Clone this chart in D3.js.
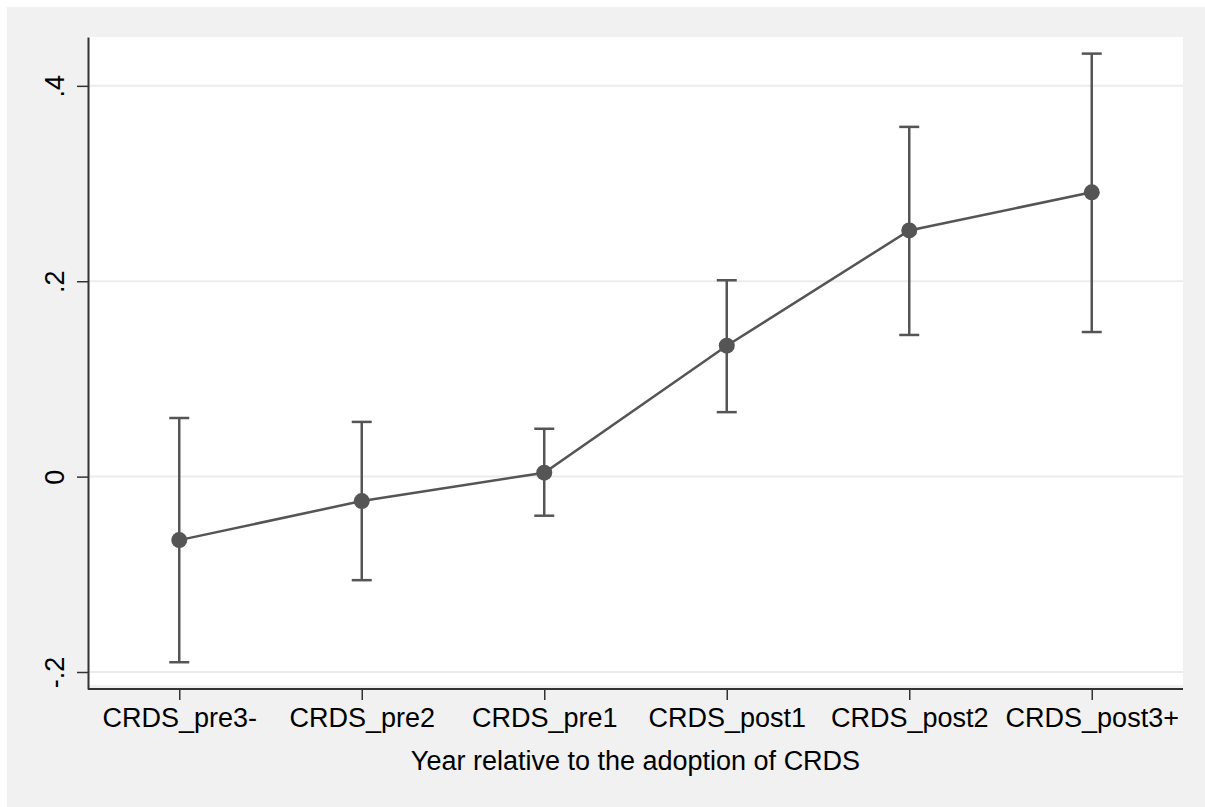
<!DOCTYPE html>
<html>
<head>
<meta charset="utf-8">
<script src="https://cdn.jsdelivr.net/npm/d3@7"></script>
<style>
  body { margin: 0; background: #fff; }
  svg { display: block; font-family: "Liberation Sans", Arial, sans-serif; }
</style>
</head>
<body>
<div id="chart"></div>
<script>
// data
const categories = ["CRDS_pre3-", "CRDS_pre2", "CRDS_pre1", "CRDS_post1", "CRDS_post2", "CRDS_post3+"];
const estimates = [-0.065, -0.025, 0.004, 0.134, 0.252, 0.291];
const ciLower = [-0.190, -0.106, -0.040, 0.066, 0.145, 0.148];
const ciUpper = [0.060, 0.056, 0.049, 0.201, 0.358, 0.433];
const yTicks = [-0.2, 0, 0.2, 0.4];
const yTickLabels = ["-.2", "0", ".2", ".4"];
const xTitle = "Year relative to the adoption of CRDS";

const width = 1205, height = 807;
const margin = {top: 37, right: 22, bottom: 118, left: 88};
const ink = "#555";

const data = categories.map((c, i) => ({c, est: estimates[i], lo: ciLower[i], hi: ciUpper[i]}));

const x = d3.scalePoint()
    .domain(categories)
    .range([margin.left, width - margin.right])
    .padding(0.5);

const y = d3.scaleLinear()
    .domain([-0.2174, 0.45])
    .range([height - margin.bottom, margin.top]);

const svg = d3.select("#chart").append("svg")
    .attr("width", width)
    .attr("height", height);

// outer gray region
svg.append("rect")
    .attr("x", 7).attr("y", 7)
    .attr("width", width - 7).attr("height", height - 7)
    .attr("fill", "#f1f1f1");

// plot region
svg.append("rect")
    .attr("x", margin.left).attr("y", margin.top)
    .attr("width", width - margin.right - margin.left)
    .attr("height", height - margin.bottom - margin.top - 4)
    .attr("fill", "#fff");

// gridlines
svg.append("g")
  .selectAll("line")
  .data(yTicks)
  .join("line")
    .attr("x1", margin.left)
    .attr("x2", width - margin.right)
    .attr("y1", d => y(d))
    .attr("y2", d => y(d))
    .attr("stroke", "#ececec")
    .attr("stroke-width", 2);

const xAxis = g => g
    .attr("transform", `translate(0,${height - margin.bottom})`)
    .call(d3.axisBottom(x).tickSize(11).tickSizeOuter(0).tickPadding(8))
    .call(g => g.select(".domain").attr("stroke", "#333").attr("stroke-width", 2)
        .attr("d", `M${margin.left},0H${width - margin.right}`))
    .call(g => g.selectAll(".tick line").attr("stroke", "#333").attr("stroke-width", 1.5))
    .call(g => g.selectAll(".tick text")
        .attr("fill", "#000")
        .attr("font-size", 27)
        .attr("font-family", "Liberation Sans, Arial, sans-serif"));

const yAxis = g => g
    .attr("transform", `translate(${margin.left},0)`)
    .call(d3.axisLeft(y).tickValues(yTicks).tickFormat((d, i) => yTickLabels[i])
        .tickSize(11).tickSizeOuter(0))
    .call(g => g.select(".domain").attr("stroke", "#333").attr("stroke-width", 2))
    .call(g => g.selectAll(".tick line").attr("stroke", "#333").attr("stroke-width", 1.5))
    .call(g => g.selectAll(".tick text")
        .attr("fill", "#000")
        .attr("font-size", 27)
        .attr("font-family", "Liberation Sans, Arial, sans-serif")
        .attr("text-anchor", "middle")
        .attr("dy", null)
        .attr("x", null)
        .attr("transform", "translate(-31,0) rotate(-90)")
        .attr("dominant-baseline", "middle"));

svg.append("g").call(xAxis);
svg.append("g").call(yAxis);

// axis title
svg.append("text")
    .attr("x", (margin.left + width - margin.right) / 2)
    .attr("y", 770)
    .attr("text-anchor", "middle")
    .attr("font-size", 27)
    .attr("fill", "#000")
    .text(xTitle);

// confidence intervals
const ci = svg.append("g")
    .attr("stroke", ink)
    .attr("stroke-width", 2.5)
  .selectAll("g")
  .data(data)
  .join("g");

ci.append("line")
    .attr("x1", d => x(d.c)).attr("x2", d => x(d.c))
    .attr("y1", d => y(d.lo)).attr("y2", d => y(d.hi));

ci.append("line")
    .attr("x1", d => x(d.c) - 10).attr("x2", d => x(d.c) + 10)
    .attr("y1", d => y(d.hi)).attr("y2", d => y(d.hi));

ci.append("line")
    .attr("x1", d => x(d.c) - 10).attr("x2", d => x(d.c) + 10)
    .attr("y1", d => y(d.lo)).attr("y2", d => y(d.lo));

// connecting line
svg.append("path")
    .datum(data)
    .attr("fill", "none")
    .attr("stroke", ink)
    .attr("stroke-width", 2.5)
    .attr("d", d3.line().x(d => x(d.c)).y(d => y(d.est)));

// point estimates
svg.append("g")
    .attr("fill", ink)
  .selectAll("circle")
  .data(data)
  .join("circle")
    .attr("cx", d => x(d.c))
    .attr("cy", d => y(d.est))
    .attr("r", 8);
</script>
</body>
</html>
